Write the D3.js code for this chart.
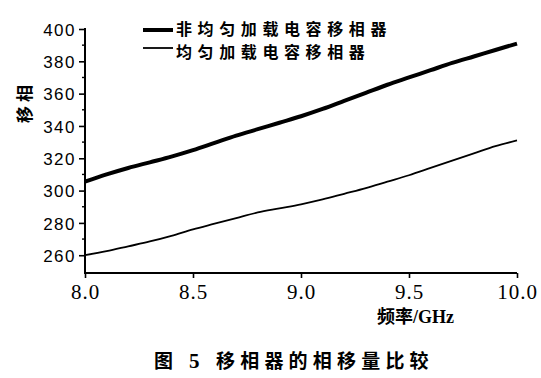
<!DOCTYPE html>
<html>
<head>
<meta charset="utf-8">
<script src="https://cdn.jsdelivr.net/npm/d3@7/dist/d3.min.js"></script>
<style>
  body { margin: 0; background: #fff; }
  svg { display: block; }
</style>
</head>
<body>
<div id="chart"></div>
<script>
"use strict";

(function () {
   // frequency in GHz
   const freqs = [8.0, 8.1, 8.2, 8.3, 8.4, 8.5, 8.6, 8.7, 8.8, 8.9, 9.0,
                  9.1, 9.2, 9.3, 9.4, 9.5, 9.6, 9.7, 9.8, 9.9, 10.0];
   // phase shift, non-uniform loaded
   const nonUniform = [305.5, 310, 314, 317.5, 321, 325, 329.5, 334, 338, 342, 346,
                       350.5, 355.5, 360.5, 365.5, 370, 374.5, 379, 383, 387, 391];
   // phase shift, uniform loaded
   const uniform = [260, 262.5, 265.5, 268.5, 272, 276, 279.5, 283, 286.5, 289, 291.5,
                    294.5, 298, 301.5, 305.5, 309.5, 314, 318.5, 323, 327.5, 331];

   const seriesNames = ["非均匀加载电容移相器", "均匀加载电容移相器"];
   const xTicks = [8.0, 8.5, 9.0, 9.5, 10.0];
   const yTicks = [260, 280, 300, 320, 340, 360, 380, 400];
   const yMinorTicks = [270, 290, 310, 330, 350, 370, 390];

   const width = 541;
   const height = 378;

   const x = d3.scaleLinear().domain([8, 10]).range([85, 517]);
   const y = d3.scaleLinear().domain([249, 400]).range([273, 29]);

   const svg = d3.select("#chart").append("svg")
      .attr("width", width)
      .attr("height", height);

   // y axis
   const yAxis = svg.append("g")
      .attr("transform", `translate(${x(8)},0)`)
      .call(d3.axisLeft(y).tickValues(yTicks).tickSize(6).tickPadding(3)
         .tickFormat(d3.format("d")));
   yAxis.select(".domain").attr("d", `M0,${y(249)}V${y(400) - 1}`)
      .attr("stroke-width", 2);
   yAxis.selectAll(".tick line").attr("stroke-width", 1.6);
   yAxis.selectAll(".tick text")
      .style("font-family", "'Liberation Sans', Arial, sans-serif")
      .style("font-size", "17px")
      .style("letter-spacing", "1.5px")
      .attr("dy", "0.36em");

   svg.append("g")
      .selectAll("line")
      .data(yMinorTicks)
      .join("line")
      .attr("x1", x(8) - 3)
      .attr("x2", x(8))
      .attr("y1", d => y(d))
      .attr("y2", d => y(d))
      .attr("stroke", "#000")
      .attr("stroke-width", 1.4);

   // x axis
   const xAxis = svg.append("g")
      .attr("transform", `translate(0,${y(249)})`)
      .call(d3.axisBottom(x).tickValues(xTicks).tickSize(5).tickPadding(6)
         .tickFormat(d3.format(".1f")));
   xAxis.select(".domain").attr("d", `M${x(8) - 1},0H${x(10)}`)
      .attr("stroke-width", 2);
   xAxis.selectAll(".tick line").attr("stroke-width", 1.6);
   xAxis.selectAll(".tick text")
      .style("font-family", "'Liberation Serif', 'Times New Roman', serif")
      .style("font-size", "21px")
      .style("letter-spacing", "1px");

   // curves
   const line = d3.line()
      .x(d => x(d[0]))
      .y(d => y(d[1]))
      .curve(d3.curveMonotoneX);

   svg.append("path")
      .datum(d3.zip(freqs, nonUniform))
      .attr("d", line)
      .attr("fill", "none")
      .attr("stroke", "#000")
      .attr("stroke-width", 4);

   svg.append("path")
      .datum(d3.zip(freqs, uniform))
      .attr("d", line)
      .attr("fill", "none")
      .attr("stroke", "#000")
      .attr("stroke-width", 1.8);

   // legend: [sample y, text y, stroke width]
   const legend = svg.append("g");
   [[30, 29.5, 4], [48, 52, 1.8]].forEach(([ly, ty, sw], i) => {
      legend.append("line")
         .attr("x1", 143).attr("x2", 173)
         .attr("y1", ly).attr("y2", ly)
         .attr("stroke", "#000")
         .attr("stroke-width", sw);
      legend.append("text")
         .attr("x", 176)
         .attr("y", ty)
         .attr("dy", "0.36em")
         .style("font-family", "'Noto Sans CJK SC', sans-serif")
         .style("font-size", "16px")
         .style("font-weight", "bold")
         .style("letter-spacing", "5.6px")
         .text(seriesNames[i]);
   });

   // axis titles
   svg.append("text")
      .attr("transform", "translate(25,102) rotate(-90)")
      .attr("text-anchor", "middle")
      .attr("dy", "0.36em")
      .style("font-family", "'Noto Sans CJK SC', sans-serif")
      .style("font-size", "17px")
      .style("font-weight", "bold")
      .style("letter-spacing", "4px")
      .text("移相");

   svg.append("text")
      .attr("x", 377)
      .attr("y", 317)
      .attr("dy", "0.36em")
      .style("font-family", "'Liberation Serif', 'Noto Sans CJK SC', serif")
      .style("font-size", "18px")
      .style("font-weight", "bold")
      .text("频率/GHz");

   // caption
   const caption = svg.append("text")
      .attr("y", 361)
      .attr("dy", "0.36em")
      .style("font-family", "'Noto Sans CJK SC', sans-serif")
      .style("font-size", "19px")
      .style("font-weight", "bold");
   caption.append("tspan").attr("x", 154).text("图");
   caption.append("tspan").attr("x", 189)
      .style("font-family", "'Liberation Serif', serif")
      .style("font-size", "21px")
      .text("5");
   caption.append("tspan").attr("x", 216)
      .style("letter-spacing", "5.2px")
      .text("移相器的相移量比较");
})();
</script>
</body>
</html>
